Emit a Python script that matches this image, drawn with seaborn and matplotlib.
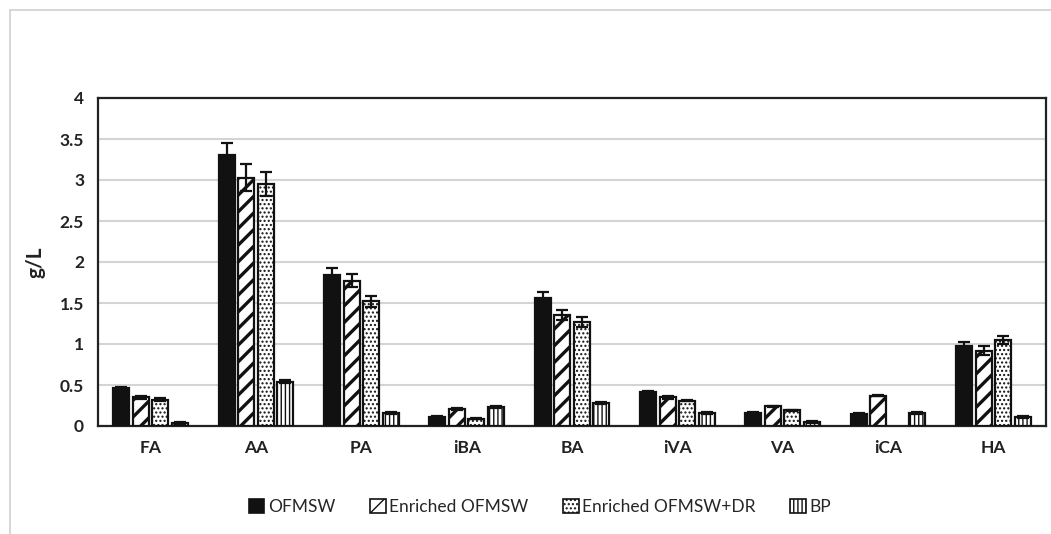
import numpy as np
import pandas as pd
import matplotlib
matplotlib.use("Agg")
import matplotlib.pyplot as plt
import seaborn as sns
from matplotlib.patches import Rectangle

categories = ["FA", "AA", "PA", "iBA", "BA", "iVA", "VA", "iCA", "HA"]
series = ["OFMSW", "Enriched OFMSW", "Enriched OFMSW+DR", "BP"]
ofmsw = [0.46, 3.30, 1.84, 0.11, 1.56, 0.41, 0.16, 0.15, 0.97]
enriched = [0.35, 3.03, 1.77, 0.21, 1.35, 0.35, 0.24, 0.37, 0.92]
enriched_dr = [0.32, 2.95, 1.52, 0.09, 1.27, 0.31, 0.19, np.nan, 1.05]
bp = [0.04, 0.54, 0.16, 0.23, 0.28, 0.16, 0.05, 0.16, 0.11]
err_ofmsw = [0.02, 0.15, 0.09, 0.01, 0.08, 0.02, 0.01, 0.01, 0.05]
err_enriched = [0.02, 0.16, 0.08, 0.01, 0.06, 0.02, 0.01, 0.01, 0.05]
err_dr = [0.02, 0.15, 0.07, 0.01, 0.06, 0.01, 0.01, 0.0, 0.05]
err_bp = [0.01, 0.02, 0.01, 0.01, 0.01, 0.01, 0.01, 0.01, 0.01]
yticks = [0, 0.5, 1, 1.5, 2, 2.5, 3, 3.5, 4]
ytick_labels = ["0", "0.5", "1", "1.5", "2", "2.5", "3", "3.5", "4"]

values = [ofmsw, enriched, enriched_dr, bp]
errors = [err_ofmsw, err_enriched, err_dr, err_bp]

rows = []
for s, vals in zip(series, values):
    for c, v in zip(categories, vals):
        rows.append({"cat": c, "series": s, "val": 0.0 if np.isnan(v) else v})
df = pd.DataFrame(rows)

sns.set_style("white")
plt.rcParams["font.family"] = ["Lato", "DejaVu Sans"]
plt.rcParams["hatch.color"] = "black"

fig = plt.figure(figsize=(10.51, 5.34), dpi=100)
ax = fig.add_axes([98 / 1051, 1 - 426 / 534, 948 / 1051, 328 / 534])

# outer chart frame
fig.patches.append(Rectangle((10 / 1051, -0.1), 1.2, 1 - 10 / 534 + 0.1,
                             transform=fig.transFigure, fill=False,
                             edgecolor="#d0d0d0", linewidth=1.2))

sns.barplot(data=df, x="cat", y="val", hue="series", order=categories,
            hue_order=series, width=0.74, ax=ax, errorbar=None,
            palette=["#111111", "white", "white", "white"],
            edgecolor="#111111", linewidth=1.6, legend=False, zorder=3)

hatches = [None, "//", "....", "||||"]
hatch_lw = [1.0, 2.4, 1.0, 1.0]
bar_w = 0.152
for cont, h, hl, vals, errs in zip(ax.containers, hatches, hatch_lw, values, errors):
    xs, hs, es = [], [], []
    for bar, v, e in zip(cont, vals, errs):
        cx = bar.get_x() + bar.get_width() / 2
        bar.set_width(bar_w)
        bar.set_x(cx - bar_w / 2)
        if h:
            bar.set_hatch(h)
        try:
            bar.set_hatch_linewidth(hl)
        except Exception:
            pass
        if np.isnan(v):
            bar.set_visible(False)
            continue
        xs.append(cx)
        hs.append(bar.get_height())
        es.append(e)
    ax.errorbar(xs, hs, yerr=es, fmt="none", ecolor="#111111",
                elinewidth=1.6, capsize=4, capthick=1.6, zorder=4)

ax.set_ylim(0, 4)
ax.set_yticks(yticks)
ax.set_yticklabels(ytick_labels)
ax.set_xlim(-0.5, len(categories) - 0.5)
ax.yaxis.grid(True, color="#d4d4d4", linewidth=1.5, zorder=0)
ax.set_axisbelow(True)
for sp in ax.spines.values():
    sp.set_visible(True)
    sp.set_color("#222222")
    sp.set_linewidth(1.6)
ax.tick_params(axis="both", length=0, labelsize=12.5, pad=10)
for lbl in ax.get_xticklabels() + ax.get_yticklabels():
    lbl.set_fontweight("bold")
    lbl.set_color("#222222")
ax.set_xlabel("")
ax.set_ylabel("g/L", fontsize=15, fontweight="bold", color="#222222", labelpad=10)

handles = []
for i, s in enumerate(series):
    p = Rectangle((0, 0), 1, 1, facecolor="#111111" if i == 0 else "white",
                  edgecolor="#111111", linewidth=1.2, hatch=hatches[i])
    handles.append(p)
fig.legend(handles, series, loc="center", bbox_to_anchor=(540 / 1051, 1 - 507 / 534),
           ncol=4, frameon=False, fontsize=12.5, handlelength=0.9, handleheight=0.9,
           handletextpad=0.2, columnspacing=2.0)

fig.savefig("out.png", dpi=100)
